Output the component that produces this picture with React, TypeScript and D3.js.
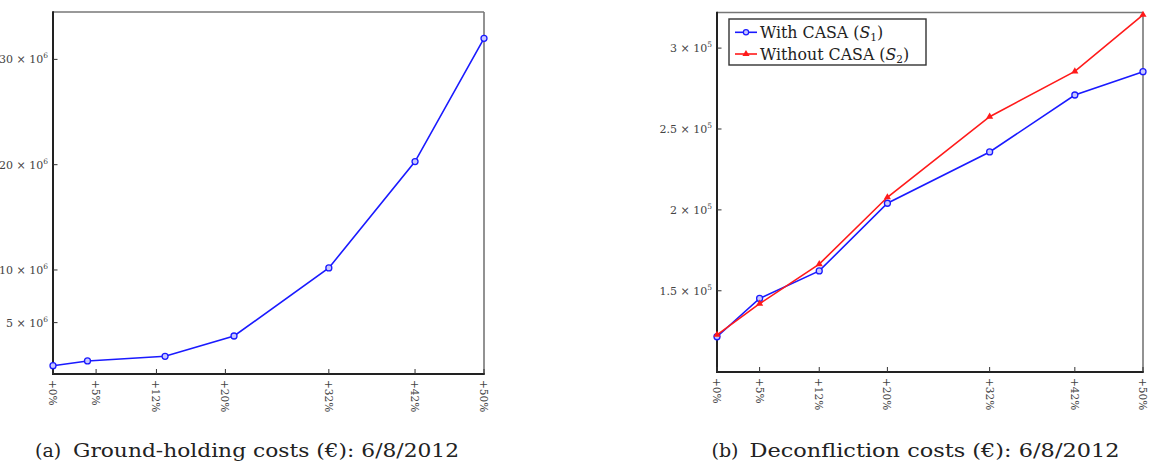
import React, { useEffect, useRef } from "react";
import * as d3 from "d3";

// x tick labels (percent increase), shared by both panels
const tickPcts = [0, 5, 12, 20, 32, 42, 50];

// (a) ground-holding costs, in euros
const groundX = [0, 4, 13, 21, 32, 42, 50];
const groundCost = [0.91e6, 1.36e6, 1.8e6, 3.73e6, 10.19e6, 20.29e6, 32.0e6];
const groundTicks = [5, 10, 20, 30];

// (b) deconfliction costs, in euros
const deconfX = [0, 5, 12, 20, 32, 42, 50];
const withCasa = [121.6e3, 145.3e3, 162.3e3, 204.1e3, 235.8e3, 271.0e3, 285.4e3];
const withoutCasa = [122.8e3, 142.0e3, 166.5e3, 207.8e3, 257.6e3, 285.6e3, 320.6e3];
const deconfTicks = [1.5, 2, 2.5, 3];

const SERIF = "'DejaVu Serif', 'Liberation Serif', serif";
const TICK_COLOR = "#444";

type Panel = {
  left: number;
  right: number;
  top: number;
  bottom: number;
  yDomain: [number, number];
};

function drawFrame(g: any, p: Panel) {
  g.append("line")
    .attr("x1", p.left).attr("x2", p.right)
    .attr("y1", p.top).attr("y2", p.top)
    .attr("stroke", "#777").attr("stroke-width", 1.6);
  g.append("line")
    .attr("x1", p.right).attr("x2", p.right)
    .attr("y1", p.top).attr("y2", p.bottom)
    .attr("stroke", "#777").attr("stroke-width", 1.6);
  g.append("line")
    .attr("x1", p.left).attr("x2", p.left)
    .attr("y1", p.top - 0.8).attr("y2", p.bottom + 1)
    .attr("stroke", "#222").attr("stroke-width", 2);
  g.append("line")
    .attr("x1", p.left - 1).attr("x2", p.right + 0.8)
    .attr("y1", p.bottom).attr("y2", p.bottom)
    .attr("stroke", "#222").attr("stroke-width", 2);
}

function drawXTicks(g: any, x: any, p: Panel) {
  tickPcts.forEach((t) => {
    const px = x(t);
    g.append("line")
      .attr("x1", px).attr("x2", px)
      .attr("y1", p.bottom).attr("y2", p.bottom - 5)
      .attr("stroke", "#333").attr("stroke-width", 1);
    g.append("text")
      .attr("transform", `translate(${px},${p.bottom + 6}) rotate(90)`)
      .attr("dominant-baseline", "central")
      .attr("font-family", SERIF)
      .attr("font-size", 10.5)
      .attr("fill", TICK_COLOR)
      .text(`+${t}%`);
  });
}

function drawYTicks(g: any, y: any, p: Panel, ticks: number[], exp: number) {
  ticks.forEach((t) => {
    const py = y(t * Math.pow(10, exp));
    g.append("line")
      .attr("x1", p.left).attr("x2", p.left + 4.5)
      .attr("y1", py).attr("y2", py)
      .attr("stroke", "#333").attr("stroke-width", 1);
    const label = g
      .append("text")
      .attr("x", p.left - 5)
      .attr("y", py + 4)
      .attr("text-anchor", "end")
      .attr("font-family", SERIF)
      .attr("font-size", 11)
      .attr("fill", TICK_COLOR);
    label.append("tspan").text(`${t} × 10`);
    label.append("tspan").attr("dy", -5).attr("font-size", 7.5).text(`${exp}`);
  });
}

function drawCaption(svg: any, tag: string, text: string, x: number, width: number) {
  const t = svg
    .append("text")
    .attr("y", 456.5)
    .attr("font-family", SERIF)
    .attr("font-size", 19)
    .attr("fill", "#222");
  t.append("tspan").attr("x", x).text(tag);
  t.append("tspan")
    .attr("x", x + 38)
    .attr("textLength", width)
    .attr("lengthAdjust", "spacingAndGlyphs")
    .text(text);
}

export default function App() {
  const ref = useRef<SVGSVGElement | null>(null);

  useEffect(() => {
    const svg = d3.select(ref.current);
    svg.selectAll("*").remove();

    // ---- (a) ground-holding ----
    const pa: Panel = { left: 53, right: 484, top: 12, bottom: 374, yDomain: [0.12e6, 34.5e6] };
    const xa = d3.scaleLinear().domain([0, 50]).range([pa.left, pa.right]);
    const ya = d3.scaleLinear().domain(pa.yDomain).range([pa.bottom, pa.top]);
    const ga = svg.append("g");

    drawFrame(ga, pa);
    drawXTicks(ga, xa, pa);
    drawYTicks(ga, ya, pa, groundTicks, 6);

    const groundPts = groundX.map((x, i) => [x, groundCost[i]] as [number, number]);
    const lineA = d3.line<[number, number]>().x((d) => xa(d[0])).y((d) => ya(d[1]));
    ga.append("path")
      .attr("d", lineA(groundPts))
      .attr("fill", "none")
      .attr("stroke", "#1a1aff")
      .attr("stroke-width", 1.6);
    ga.selectAll(".mark")
      .data(groundPts)
      .enter()
      .append("circle")
      .attr("cx", (d) => xa(d[0]))
      .attr("cy", (d) => ya(d[1]))
      .attr("r", 3)
      .attr("fill", "#c8c8ff")
      .attr("stroke", "#1a1aff")
      .attr("stroke-width", 1.3);

    drawCaption(svg, "(a)", "Ground-holding costs (€): 6/8/2012", 35, 386);

    // ---- (b) deconfliction ----
    const pb: Panel = { left: 717, right: 1143, top: 12.5, bottom: 372, yDomain: [99.8e3, 322e3] };
    const xb = d3.scaleLinear().domain([0, 50]).range([pb.left, pb.right]);
    const yb = d3.scaleLinear().domain(pb.yDomain).range([pb.bottom, pb.top]);
    const gb = svg.append("g");

    drawFrame(gb, pb);
    drawXTicks(gb, xb, pb);
    drawYTicks(gb, yb, pb, deconfTicks, 5);

    const lineB = d3.line<[number, number]>().x((d) => xb(d[0])).y((d) => yb(d[1]));
    const redPts = deconfX.map((x, i) => [x, withoutCasa[i]] as [number, number]);
    const bluePts = deconfX.map((x, i) => [x, withCasa[i]] as [number, number]);
    const tri = d3.symbol().type(d3.symbolTriangle).size(22);

    gb.append("path")
      .attr("d", lineB(bluePts))
      .attr("fill", "none")
      .attr("stroke", "#1a1aff")
      .attr("stroke-width", 1.6);
    gb.selectAll(".blue")
      .data(bluePts)
      .enter()
      .append("circle")
      .attr("cx", (d) => xb(d[0]))
      .attr("cy", (d) => yb(d[1]))
      .attr("r", 3)
      .attr("fill", "#c8c8ff")
      .attr("stroke", "#1a1aff")
      .attr("stroke-width", 1.3);

    gb.append("path")
      .attr("d", lineB(redPts))
      .attr("fill", "none")
      .attr("stroke", "#ff1a1a")
      .attr("stroke-width", 1.6);
    gb.selectAll(".red")
      .data(redPts)
      .enter()
      .append("path")
      .attr("transform", (d) => `translate(${xb(d[0])},${yb(d[1])})`)
      .attr("d", tri)
      .attr("fill", "#ff1a1a");

    // legend
    const lg = gb.append("g");
    lg.append("rect")
      .attr("x", 729).attr("y", 19)
      .attr("width", 197).attr("height", 46)
      .attr("fill", "#fff")
      .attr("stroke", "#333")
      .attr("stroke-width", 1.4);
    const rows = [
      { name: "With CASA (", sub: "1", color: "#1a1aff", marker: "circle", y: 32.3 },
      { name: "Without CASA (", sub: "2", color: "#ff1a1a", marker: "tri", y: 54 },
    ];
    rows.forEach((r) => {
      lg.append("line")
        .attr("x1", 735).attr("x2", 757)
        .attr("y1", r.y).attr("y2", r.y)
        .attr("stroke", r.color).attr("stroke-width", 1.6);
      if (r.marker === "circle") {
        lg.append("circle")
          .attr("cx", 746).attr("cy", r.y).attr("r", 2.6)
          .attr("fill", "#c8c8ff").attr("stroke", r.color).attr("stroke-width", 1.2);
      } else {
        lg.append("path")
          .attr("transform", `translate(746,${r.y})`)
          .attr("d", tri)
          .attr("fill", r.color);
      }
      const t = lg.append("text")
        .attr("x", 760)
        .attr("y", r.y + 6)
        .attr("font-family", SERIF)
        .attr("font-size", 15.8)
        .attr("fill", "#222");
      t.append("tspan").text(r.name);
      t.append("tspan").attr("font-style", "italic").text("S");
      t.append("tspan").attr("font-size", 10.5).attr("dy", 3).text(r.sub);
      t.append("tspan").attr("dy", -3).text(")");
    });

    drawCaption(svg, "(b)", "Deconfliction costs (€): 6/8/2012", 711.5, 370);
  }, []);

  return (
    <svg
      ref={ref}
      width={1161}
      height={466}
      style={{ position: "absolute", left: 0, top: 0, background: "#fff" }}
    />
  );
}
